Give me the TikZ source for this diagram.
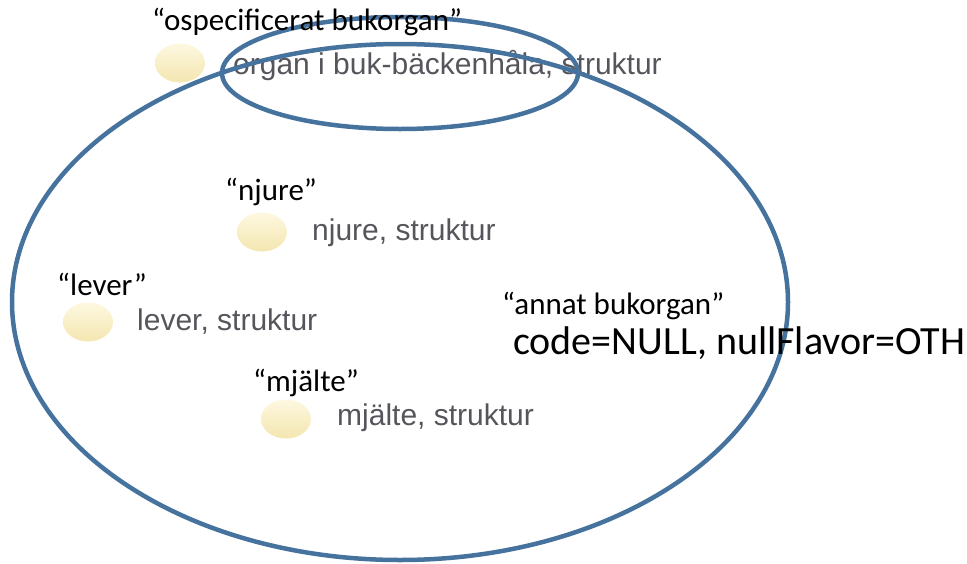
\documentclass[tikz,border=0pt]{standalone}
\usepackage{fontspec}
\setmainfont{Carlito}
\newfontfamily\arialfont{Liberation Sans}
\usetikzlibrary{shapes.geometric}
\definecolor{ringblue}{RGB}{70,114,158}
\definecolor{blobtop}{RGB}{253,248,224}
\definecolor{blobbot}{RGB}{244,230,176}
\definecolor{graytext}{RGB}{85,85,92}
\tikzset{
  ring/.style={draw=ringblue, line width=4.5pt, ellipse, fill=none},
  blob/.style={ellipse, minimum width=50pt, minimum height=39pt, inner sep=0pt,
    top color=blobtop, bottom color=blobbot, draw=none},
  quotelbl/.style={anchor=west, inner sep=0pt, font=\fontsize{31}{34}\selectfont, text=black},
  structlbl/.style={anchor=west, inner sep=0pt, font=\arialfont\fontsize{30}{33}\selectfont, text=graytext},
  codelbl/.style={anchor=west, inner sep=0pt, font=\fontsize{40}{44}\selectfont, text=black}
}
\begin{document}
\begin{tikzpicture}[x=1pt,y=-1pt]
\useasboundingbox (0,0) rectangle (967,563);
% blobs and gray texts
\node[blob] (b1) at (180,63) {};
\node[structlbl] (s1) at (233,66) {organ i buk-bäckenhåla, struktur};
\node[blob] (b2) at (262,232) {};
\node[structlbl] (s2) at (312,233) {njure, struktur};
\node[blob] (b3) at (88,322) {};
\node[structlbl] (s3) at (137,322) {lever, struktur};
\node[blob] (b4) at (286,419) {};
\node[structlbl] (s4) at (337,418) {mjälte, struktur};
% ellipses
\node[ring, minimum width=776pt, minimum height=516pt, inner sep=0pt] (big) at (400,302) {};
\node[ring, minimum width=356pt, minimum height=112pt, inner sep=0pt] (small) at (400,73) {};
% quoted labels
\node[quotelbl] (q1) at (152,22) {“ospecificerat bukorgan”};
\node[quotelbl] (q2) at (225,192) {“njure”};
\node[quotelbl] (q3) at (57,284) {“lever”};
\node[quotelbl] (q4) at (253,383) {“mjälte”};
\node[quotelbl] (q5) at (502,306) {“annat bukorgan”};
\node[codelbl] (c5) at (513,343) {code=NULL, nullFlavor=OTH};
\end{tikzpicture}
\end{document}
